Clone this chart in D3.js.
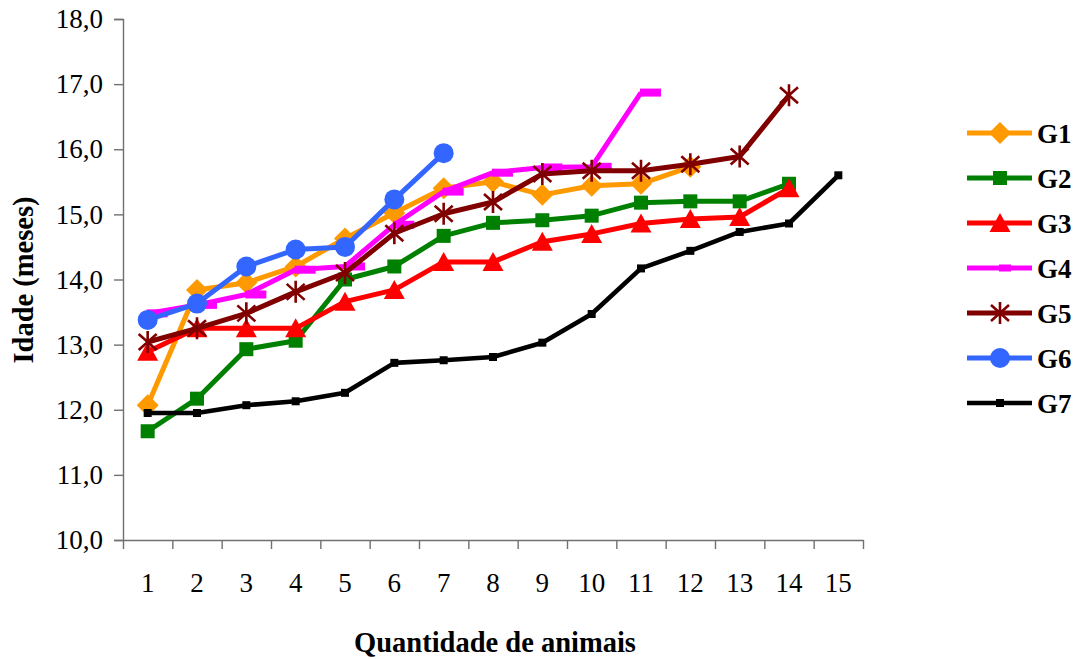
<!DOCTYPE html>
<html>
<head>
<meta charset="utf-8">
<script src="https://cdn.jsdelivr.net/npm/d3@7"></script>
<style>
  html, body { margin: 0; padding: 0; background: #fff; }
  svg { display: block; }
  text { font-family: "Liberation Serif", "Times New Roman", serif; fill: #000; }
</style>
</head>
<body>
<svg id="chart" width="1082" height="659"></svg>
<script>
// Age (months) at which each animal reached the milestone, by group
const categories = ["1","2","3","4","5","6","7","8","9","10","11","12","13","14","15"];
const g1 = [12.07, 13.84, 13.95, 14.20, 14.63, 15.02, 15.40, 15.50, 15.30, 15.44, 15.47, 15.73];
const g2 = [11.67, 12.17, 12.93, 13.06, 14.00, 14.20, 14.67, 14.87, 14.91, 14.98, 15.18, 15.20, 15.20, 15.47];
const g3 = [12.89, 13.25, 13.25, 13.25, 13.66, 13.84, 14.27, 14.27, 14.58, 14.70, 14.86, 14.93, 14.96, 15.40];
const g4 = [13.48, 13.61, 13.77, 14.15, 14.20, 14.84, 15.35, 15.64, 15.72, 15.73, 16.87];
const g5 = [13.04, 13.25, 13.48, 13.81, 14.10, 14.71, 15.01, 15.19, 15.62, 15.67, 15.67, 15.77, 15.89, 16.83];
const g6 = [13.38, 13.63, 14.20, 14.46, 14.50, 15.23, 15.94];
const g7 = [11.95, 11.95, 12.07, 12.13, 12.26, 12.72, 12.76, 12.81, 13.03, 13.47, 14.17, 14.44, 14.73, 14.86, 15.60];
const yTicks = [10, 11, 12, 13, 14, 15, 16, 17, 18];

const series = [
  { name: "G1", values: g1, color: "#FF9900", marker: "diamond" },
  { name: "G2", values: g2, color: "#008000", marker: "square" },
  { name: "G3", values: g3, color: "#FF0000", marker: "triangle" },
  { name: "G4", values: g4, color: "#FF00FF", marker: "dash" },
  { name: "G5", values: g5, color: "#800000", marker: "star" },
  { name: "G6", values: g6, color: "#3366FF", marker: "circle" },
  { name: "G7", values: g7, color: "#000000", marker: "small" }
];

const svg = d3.select("#chart");
const plotLeft = 123, plotRight = 863, plotTop = 19, plotBottom = 540;

const x = d3.scaleBand().domain(categories).range([plotLeft, plotRight]).padding(0);
const y = d3.scaleLinear().domain([10, 18]).range([plotBottom, plotTop]);

const ptBr = d3.formatLocale({ decimal: ",", thousands: ".", grouping: [3], currency: ["R$", ""] });
const fmt = ptBr.format(".1f");

const axisColor = "#707070";

// Y axis
const yAxis = svg.append("g")
  .attr("transform", `translate(${plotLeft},0)`)
  .call(d3.axisLeft(y).tickValues(yTicks).tickFormat(fmt).tickSize(9).tickPadding(11));
yAxis.select(".domain").attr("stroke", axisColor).attr("stroke-width", 1.4);
yAxis.selectAll(".tick line").attr("stroke", axisColor).attr("stroke-width", 1.4);
yAxis.selectAll(".tick text").style("font-size", "27px").style("font-family", "Liberation Serif, serif").attr("fill", "#000");

// X axis: tick marks at category boundaries, labels at category centres
const xEdge = d3.scaleLinear().domain([0, categories.length]).range([plotLeft, plotRight]);
const xTickAxis = svg.append("g")
  .attr("transform", `translate(0,${plotBottom})`)
  .call(d3.axisBottom(xEdge).tickValues(d3.range(0, categories.length + 1)).tickFormat("").tickSize(9).tickSizeOuter(0));
xTickAxis.select(".domain").attr("stroke", axisColor).attr("stroke-width", 1.4);
xTickAxis.selectAll(".tick line").attr("stroke", axisColor).attr("stroke-width", 1.4);

const xLabelAxis = svg.append("g")
  .attr("transform", `translate(0,${plotBottom})`)
  .call(d3.axisBottom(x).tickSize(0).tickPadding(33));
xLabelAxis.select(".domain").remove();
xLabelAxis.selectAll(".tick text").style("font-size", "27px").style("font-family", "Liberation Serif, serif").attr("fill", "#000");

// Axis titles
svg.append("text")
  .attr("x", (plotLeft + plotRight) / 2 + 2)
  .attr("y", 652)
  .attr("text-anchor", "middle")
  .style("font-size", "28.5px")
  .style("font-weight", "bold")
  .text("Quantidade de animais");

svg.append("text")
  .attr("transform", "translate(33,280) rotate(-90)")
  .attr("text-anchor", "middle")
  .style("font-size", "28.5px")
  .style("font-weight", "bold")
  .text("Idade (meses)");

// Marker drawing
function drawMarker(g, type, color) {
  switch (type) {
    case "diamond":
      g.append("path").attr("d", "M0,-11L11,0L0,11L-11,0Z").attr("fill", color);
      break;
    case "square":
      g.append("rect").attr("x", -7).attr("y", -7).attr("width", 14).attr("height", 14).attr("fill", color);
      break;
    case "triangle":
      g.append("path").attr("d", "M0,-10L10.5,9L-10.5,9Z").attr("fill", color);
      break;
    case "dash":
      g.append("rect").attr("x", -1).attr("y", -4).attr("width", 21).attr("height", 8).attr("fill", color);
      break;
    case "star":
      g.append("path")
        .attr("d", "M0,-11L0,11M-9,-8L9,8M-9,8L9,-8")
        .attr("stroke", color).attr("stroke-width", 2.6).attr("fill", "none");
      break;
    case "circle":
      g.append("circle").attr("r", 10).attr("fill", color);
      break;
    case "small":
      g.append("rect").attr("x", -4).attr("y", -4).attr("width", 8).attr("height", 8).attr("fill", color);
      break;
  }
}

const line = d3.line()
  .x((d, i) => x(categories[i]) + x.bandwidth() / 2)
  .y(d => y(d));

series.forEach(s => {
  const g = svg.append("g").attr("class", "series");
  g.append("path")
    .datum(s.values)
    .attr("d", line)
    .attr("fill", "none")
    .attr("stroke", s.color)
    .attr("stroke-width", s.marker === "small" ? 4.6 : 5)
    .attr("stroke-linejoin", "round");
  s.values.forEach((v, i) => {
    const m = g.append("g")
      .attr("transform", `translate(${x(categories[i]) + x.bandwidth() / 2},${y(v)})`);
    drawMarker(m, s.marker, s.color);
  });
});

// Legend
const legend = svg.append("g").attr("transform", "translate(967,133)");
series.forEach((s, i) => {
  const row = legend.append("g").attr("transform", `translate(0,${i * 45})`);
  row.append("line")
    .attr("x1", 0).attr("x2", 65).attr("y1", 0).attr("y2", 0)
    .attr("stroke", s.color).attr("stroke-width", s.marker === "small" ? 4.6 : 5);
  const m = row.append("g").attr("transform", "translate(33,0)");
  if (s.marker === "dash") {
    m.append("rect").attr("x", -1).attr("y", -3.5).attr("width", 12).attr("height", 7).attr("fill", s.color);
  } else {
    drawMarker(m, s.marker, s.color);
  }
  row.append("text")
    .attr("x", 70).attr("y", 9.5)
    .style("font-size", "27px")
    .style("font-weight", "bold")
    .text(s.name);
});
</script>
</body>
</html>
